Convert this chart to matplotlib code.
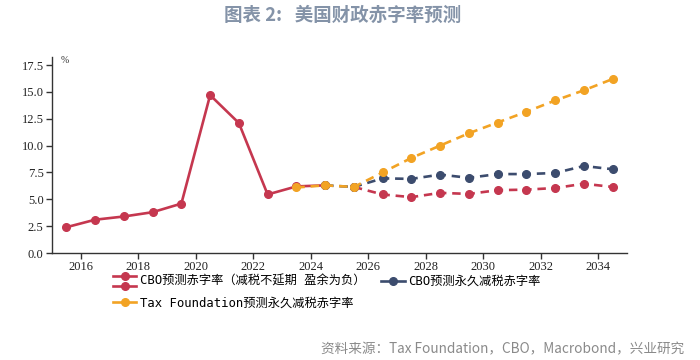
import matplotlib
matplotlib.use("Agg")
import matplotlib.pyplot as plt
from matplotlib.lines import Line2D
from matplotlib.legend_handler import HandlerBase

# ---- data ----
hist_years = [2015, 2016, 2017, 2018, 2019, 2020, 2021, 2022, 2023, 2024]
hist_vals = [2.4, 3.1, 3.4, 3.8, 4.6, 14.7, 12.1, 5.45, 6.2, 6.3]

base_years = [2025, 2026, 2027, 2028, 2029, 2030, 2031, 2032, 2033, 2034]
base_vals = [6.15, 5.45, 5.2, 5.6, 5.5, 5.85, 5.9, 6.05, 6.45, 6.15]

perm_years = [2024, 2025, 2026, 2027, 2028, 2029, 2030, 2031, 2032, 2033, 2034]
perm_vals = [6.3, 6.15, 6.95, 6.9, 7.3, 7.0, 7.35, 7.35, 7.45, 8.1, 7.8]

tf_years = [2023, 2024, 2025, 2026, 2027, 2028, 2029, 2030, 2031, 2032, 2033, 2034]
tf_vals = [6.1, 6.3, 6.15, 7.5, 8.85, 10.0, 11.15, 12.15, 13.15, 14.2, 15.15, 16.2]

xticks = [2016, 2018, 2020, 2022, 2024, 2026, 2028, 2030, 2032, 2034]
yticks = [0.0, 2.5, 5.0, 7.5, 10.0, 12.5, 15.0, 17.5]

label_base = "CBO预测赤字率（减税不延期 盈余为负）"
label_perm = "CBO预测永久减税赤字率"
label_tf = "Tax Foundation预测永久减税赤字率"
title = "图表 2:   美国财政赤字率预测"
source = "资料来源：Tax Foundation，CBO，Macrobond，兴业研究"

RED = "#c5374f"
BLUE = "#3c4c6e"
ORANGE = "#f2a324"

plt.rcParams['font.family'] = ['Noto Sans CJK SC', 'DejaVu Sans']

fig = plt.figure(figsize=(7, 3.6), dpi=100)
ax = fig.add_axes([52 / 700, 1 - 253 / 360, (627 - 52) / 700, (253 - 57) / 360])

mid = lambda ys: [y + 0.5 for y in ys]
dash = (0, (3.2, 2.2))
lw = 1.9
ms = 5.5

ax.plot(mid(hist_years), hist_vals, color=RED, lw=lw, marker='o', ms=ms, zorder=3)
ax.plot(mid(base_years), base_vals, color=RED, lw=lw, ls=dash, marker='o', ms=ms, zorder=3)
ax.plot(mid(perm_years), perm_vals, color=BLUE, lw=lw, ls=dash, marker='o', ms=ms, zorder=4)
ax.plot(mid(tf_years), tf_vals, color=ORANGE, lw=lw, ls=dash, marker='o', ms=ms, zorder=5)

ax.set_xlim(2015, 2035)
ax.set_ylim(0, 18.25)
ax.set_xticks(xticks)
ax.set_yticks(yticks)
ax.set_yticklabels([f"{v:.1f}" for v in yticks])
for lab in ax.get_xticklabels() + ax.get_yticklabels():
    lab.set_family('Liberation Serif')
    lab.set_fontsize(9)
    lab.set_color('#222222')
ax.tick_params(axis='both', direction='out', length=4, width=1, color='#333333', pad=2)
for s in ['top', 'right']:
    ax.spines[s].set_visible(False)
for s in ['left', 'bottom']:
    ax.spines[s].set_color('#333333')
    ax.spines[s].set_linewidth(1)

ax.text(2015.3, 17.9, "%", fontsize=7, color='#333333', family='Liberation Serif', va='center')


class DoubleLineHandler(HandlerBase):
    def create_artists(self, legend, orig_handle, xdescent, ydescent, width, height, fontsize, trans):
        arts = []
        for off in (1.0, -0.15):
            y = -ydescent + height * off
            l = Line2D([-xdescent, -xdescent + width], [y, y], color=RED, lw=lw, transform=trans)
            m = Line2D([-xdescent + width / 2], [y], color=RED, marker='o', ms=ms, ls='', transform=trans)
            arts += [l, m]
        return arts


h_base = Line2D([], [], color=RED, lw=lw, marker='o', ms=ms)
h_perm = Line2D([], [], color=BLUE, lw=lw, marker='o', ms=ms)
h_tf = Line2D([], [], color=ORANGE, lw=lw, marker='o', ms=ms)

leg = fig.legend([h_base, h_tf, h_perm], [label_base, label_tf, label_perm], ncol=2,
                 loc='upper left', bbox_to_anchor=(113 / 700, 1 - 275 / 360),
                 frameon=False, handlelength=1.9, handletextpad=0.3, columnspacing=1.3,
                 labelspacing=0.7, borderaxespad=0, borderpad=0,
                 prop={'family': ['DejaVu Sans Mono', 'Noto Sans CJK SC'], 'size': 8.8},
                 handler_map={h_base: DoubleLineHandler()})

fig.text(343 / 700, 1 - 15 / 360, title, ha='center', va='center', fontsize=13.3,
         fontweight='bold', color='#8493a8')
fig.text(684 / 700, 1 - 349 / 360, source, ha='right', va='center', fontsize=9.8,
         color='#8a8a8a')

fig.savefig("out.png", dpi=100)
